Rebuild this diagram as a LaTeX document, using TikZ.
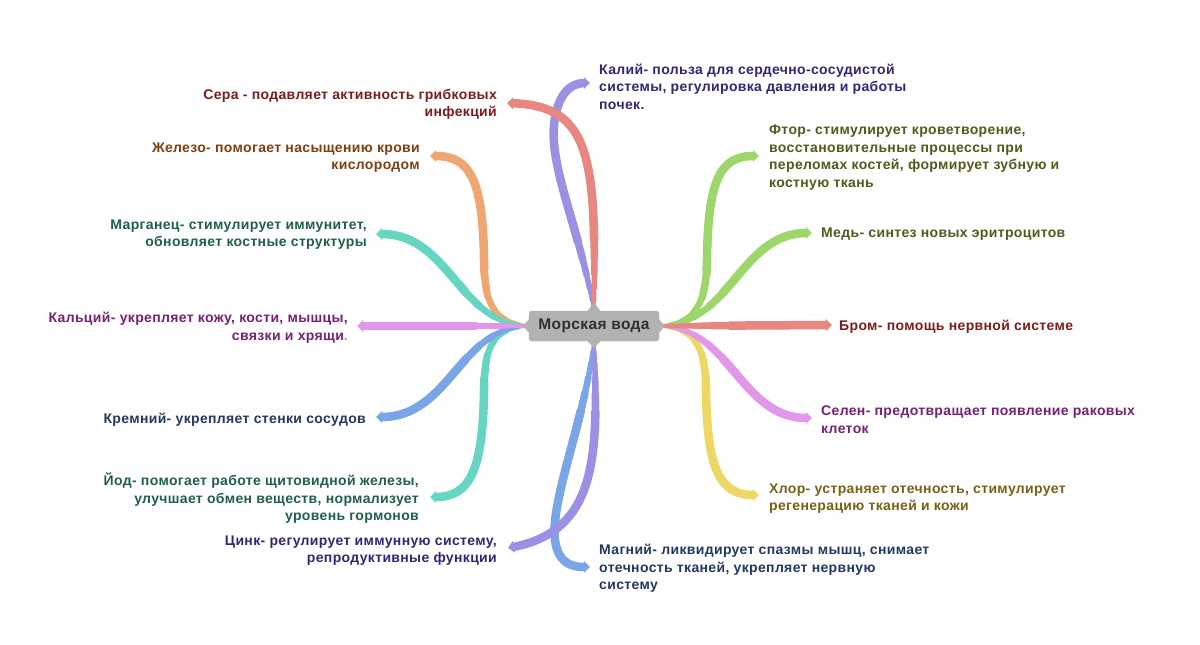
\documentclass[tikz,border=0pt]{standalone}
\usepackage{fontspec}
\setmainfont{Liberation Sans}[LetterSpace=2.5]
\usetikzlibrary{arrows.meta}
\definecolor{bred}{RGB}{232,135,128}
\definecolor{bpurple}{RGB}{155,145,228}
\definecolor{borange}{RGB}{240,166,112}
\definecolor{bteal}{RGB}{102,214,194}
\definecolor{bpink}{RGB}{226,152,232}
\definecolor{bblue}{RGB}{122,165,230}
\definecolor{bgreen}{RGB}{157,214,107}
\definecolor{byellow}{RGB}{236,216,98}
\definecolor{tred}{RGB}{125,28,28}
\definecolor{tbrown}{RGB}{128,62,18}
\definecolor{tteal}{RGB}{30,95,80}
\definecolor{tindigo}{RGB}{52,38,118}
\definecolor{tpurple}{RGB}{118,32,118}
\definecolor{tblue}{RGB}{36,56,100}
\definecolor{tolive}{RGB}{78,92,28}
\definecolor{tkhaki}{RGB}{118,98,22}
\definecolor{cgray}{RGB}{178,178,178}
\definecolor{ctext}{RGB}{48,48,48}
% tapered branch: #1 colour, #2 path, #3 start point
\newcommand\brn[3]{%
  \draw[line width=3.5pt,#1,shorten >=6pt] #2;
  \foreach \w/\r in {4.5/10,5.5/22,6.5/36,7.5/52}{%
    \begin{scope}[even odd rule]
      \clip (0,0) -- (1200,0) -- (1200,645) -- (0,645) -- cycle
        ([xshift=\r pt]#3) arc[start angle=0,end angle=-360,radius=\r];
      \draw[line width=\w pt,#1,shorten >=6pt] #2;
    \end{scope}}%
  \begin{scope}[even odd rule]
    \clip (0,0) -- (1200,0) -- (1200,645) -- (0,645) -- cycle
      ([xshift=70pt]#3) arc[start angle=0,end angle=-360,radius=70];
    \draw[line width=8.5pt,#1,-{Triangle[length=6pt,width=11.5pt]}] #2;
  \end{scope}}
\begin{document}
\begin{tikzpicture}[x=1pt,y=-1pt,
  ltext/.style={anchor=east,align=right,inner sep=0pt,yshift=-1.5pt,font=\fontsize{14}{17.5}\selectfont\bfseries},
  rtext/.style={anchor=west,align=left,inner sep=0pt,yshift=-1.5pt,font=\fontsize{14}{17.5}\selectfont\bfseries}]
\useasboundingbox (0,0) rectangle (1200,645);
\fill[white] (0,0) rectangle (1200,645);
% center node (placed first so branches can refer to it)
\node[rectangle,rounded corners=3pt,fill=cgray,minimum width=130pt,minimum height=30pt,inner sep=0pt] (c) at (594,326) {};
% text nodes - left
\node[ltext,text=tred] (sera) at (497,103) {Сера - подавляет активность грибковых\\инфекций};
\node[ltext,text=tbrown] (zhel) at (420,156) {Железо- помогает насыщению крови\\кислородом};
\node[ltext,text=tteal] (marg) at (367,233) {Марганец- стимулирует иммунитет,\\обновляет костные структуры};
\node[ltext,text=tpurple] (kalc) at (348,326) {Кальций- укрепляет кожу, кости, мышцы,\\связки и хрящи{\color{tpurple!50}.}};
\node[ltext,text=tblue] (krem) at (366,418) {Кремний- укрепляет стенки сосудов};
\node[ltext,text=tteal] (iod) at (419,497) {Йод- помогает работе щитовидной железы,\\улучшает обмен веществ, нормализует\\уровень гормонов};
\node[ltext,text=tindigo] (cink) at (497,549) {Цинк- регулирует иммунную систему,\\репродуктивные функции};
% text nodes - right
\node[rtext,text=tindigo] (kali) at (599,85) {Калий- польза для сердечно-сосудистой\\системы, регулировка давления и работы\\почек.};
\node[rtext,text=tolive] (ftor) at (769,156) {Фтор- стимулирует кроветворение,\\восстановительные процессы при\\переломах костей, формирует зубную и\\костную ткань};
\node[rtext,text=tolive] (med) at (821,233) {Медь- синтез новых эритроцитов};
\node[rtext,text=tred] (brom) at (839,325) {Бром- помощь нервной системе};
\node[rtext,text=tpurple] (selen) at (821,418) {Селен- предотвращает появление раковых\\клеток};
\node[rtext,text=tkhaki] (hlor) at (769,497) {Хлор- устраняет отечность, стимулирует\\регенерацию тканей и кожи};
\node[rtext,text=tblue] (magn) at (599,567) {Магний- ликвидирует спазмы мышц, снимает\\отечность тканей, укрепляет нервную\\систему};
% branch tips
\coordinate (tsera) at (507,103);
\coordinate (tzhel) at (430,156);
\coordinate (tmarg) at (376,234);
\coordinate (tkalc) at (357,326);
\coordinate (tkrem) at (376,417);
\coordinate (tiod) at (430,497);
\coordinate (tcink) at (508,548);
\coordinate (tkali) at (590,83);
\coordinate (tftor) at (759,156);
\coordinate (tmed) at (812,233);
\coordinate (tbrom) at (832,325);
\coordinate (tselen) at (812,418);
\coordinate (thlor) at (759,495);
\coordinate (tmagn) at (590,567);
% branches - top
\brn{bpurple}{(c.north) .. controls (580,230) and (550,170) .. (554,125) .. controls (557,95) and (570,83) .. (tkali)}{c.north}
\brn{bred}{(c.north) .. controls (596,160) and (592,106) .. (tsera)}{c.north}
% bottom
\brn{bblue}{(c.south) .. controls (585,420) and (550,500) .. (555,540) .. controls (558,562) and (570,567) .. (tmagn)}{c.south}
\brn{bpurple}{(c.south) .. controls (598,450) and (600,530) .. (tcink)}{c.south}
% left
\brn{borange}{(c.west) .. controls (490,322) and (485,300) .. (484,260) .. controls (483,180) and (470,156) .. (tzhel)}{c.west}
\brn{bteal}{(c.west) .. controls (490,328) and (485,350) .. (484,390) .. controls (483,470) and (470,497) .. (tiod)}{c.west}
\brn{bblue}{(c.west) .. controls (460,326) and (450,417) .. (tkrem)}{c.west}
\brn{bteal}{(c.west) .. controls (460,326) and (450,234) .. (tmarg)}{c.west}
\brn{bpink}{(c.west) -- (tkalc)}{c.west}
% right
\brn{byellow}{(c.east) .. controls (698,328) and (705,350) .. (706,390) .. controls (707,470) and (720,495) .. (thlor)}{c.east}
\brn{bgreen}{(c.east) .. controls (698,324) and (706,300) .. (707,260) .. controls (708,180) and (720,156) .. (tftor)}{c.east}
\brn{bgreen}{(c.east) .. controls (730,326) and (740,233) .. (tmed)}{c.east}
\brn{bpink}{(c.east) .. controls (730,326) and (740,418) .. (tselen)}{c.east}
\brn{bred}{(c.east) -- (tbrom)}{c.east}
% center node drawn on top
\fill[cgray,rounded corners=3pt] (c.north west) rectangle (c.south east);
\fill[cgray] ([xshift=-6.5pt]c.north) -- ([yshift=8pt]c.north) -- ([xshift=6.5pt]c.north) -- cycle;
\fill[cgray] ([xshift=-6.5pt]c.south) -- ([yshift=-7pt]c.south) -- ([xshift=6.5pt]c.south) -- cycle;
\fill[cgray] ([yshift=-6.5pt]c.west) -- ([xshift=-6pt]c.west) -- ([yshift=6.5pt]c.west) -- cycle;
\fill[cgray] ([yshift=-6.5pt]c.east) -- ([xshift=6pt]c.east) -- ([yshift=6.5pt]c.east) -- cycle;
\node[font=\fontsize{15.5}{18}\selectfont\bfseries,text=ctext,inner sep=0pt] (ctitle) at (c.center) {Морская вода};
\end{tikzpicture}
\end{document}
